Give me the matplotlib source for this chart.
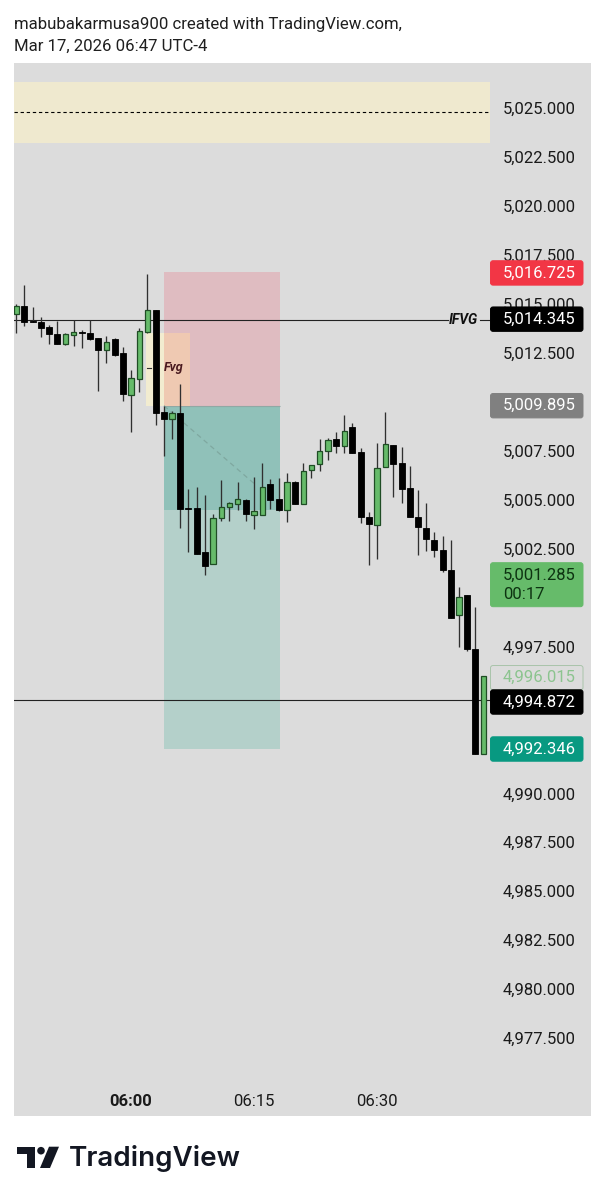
import numpy as np
import matplotlib
matplotlib.use('Agg')
import matplotlib.pyplot as plt
from matplotlib.patches import Rectangle, FancyBboxPatch, Circle, Polygon

plt.rcParams['font.family'] = ['Roboto', 'DejaVu Sans']

# minutes relative to 06:00, one candle per minute
minutes = np.arange(-14, 44)
opens = [5014.49, 5014.90, 5014.15, 5014.08, 5013.82, 5013.47, 5012.96, 5013.42, 5013.57, 5013.53,
         5013.26, 5012.67, 5013.23, 5012.50, 5010.37, 5011.20, 5013.57, 5014.69, 5009.50, 5009.14,
         5009.46, 5004.58, 5004.60, 5002.33, 5001.74, 5004.10, 5004.66, 5004.80, 5005.00, 5004.25,
         5004.25, 5005.82, 5005.07, 5004.48, 5005.92, 5004.82, 5006.54, 5006.83, 5007.51, 5008.11,
         5007.76, 5008.72, 5007.44, 5004.12, 5003.71, 5006.69, 5007.81, 5006.91, 5005.60, 5004.12,
         5003.59, 5002.98, 5002.44, 5001.43, 4999.12, 5000.15, 4997.38, 4992.02]
closes = [5014.91, 5014.10, 5014.10, 5013.77, 5013.50, 5012.99, 5013.47, 5013.57, 5013.53, 5013.23,
          5012.67, 5013.09, 5012.41, 5010.42, 5011.25, 5013.64, 5014.69, 5009.46, 5009.14, 5009.45,
          5004.53, 5004.54, 5002.26, 5001.65, 5004.09, 5004.66, 5004.87, 5005.04, 5004.27, 5004.43,
          5005.65, 5005.02, 5004.48, 5005.92, 5004.82, 5006.50, 5006.81, 5007.52, 5008.05, 5007.76,
          5008.54, 5007.39, 5004.12, 5003.78, 5006.65, 5007.85, 5006.86, 5005.55, 5004.12, 5003.63,
          5003.01, 5002.44, 5001.43, 4998.99, 5000.07, 4997.38, 4992.02, 4996.02]
highs = [5015.01, 5015.98, 5014.86, 5014.34, 5013.94, 5014.16, 5013.55, 5014.21, 5013.67, 5014.21,
         5013.28, 5013.38, 5013.28, 5012.80, 5011.63, 5013.79, 5016.55, 5014.71, 5009.82, 5009.55,
         5010.93, 5005.57, 5005.65, 5005.28, 5004.29, 5006.03, 5004.90, 5005.91, 5005.07, 5006.16,
         5006.91, 5006.06, 5006.13, 5006.37, 5005.98, 5006.91, 5006.81, 5008.11, 5008.17, 5008.49,
         5009.35, 5008.95, 5007.65, 5004.38, 5007.93, 5009.50, 5007.81, 5007.70, 5006.73, 5005.52,
         5004.84, 5003.37, 5003.17, 5002.96, 5000.55, 5000.15, 4999.56, 4996.02]
lows = [5013.53, 5013.91, 5014.10, 5013.31, 5012.99, 5012.99, 5012.94, 5012.87, 5012.75, 5013.18,
        5010.59, 5012.02, 5012.36, 5010.08, 5008.48, 5010.52, 5013.53, 5008.85, 5007.25, 5008.12,
        5003.59, 5002.36, 5002.23, 5001.16, 5001.74, 5003.95, 5003.95, 5004.48, 5003.95, 5003.51,
        5004.24, 5004.53, 5004.46, 5003.90, 5004.82, 5004.82, 5006.11, 5006.49, 5007.05, 5007.39,
        5007.39, 5007.39, 5003.82, 5001.70, 5001.98, 5006.69, 5005.17, 5004.85, 5004.12, 5002.18,
        5002.39, 5002.11, 5001.33, 4998.99, 4997.48, 4997.31, 4992.02, 4992.02]

# 5,010 / 5,000 / 4,995 / 4,992.5 sit fully behind tags in the picture
price_ticks = [5025.0, 5022.5, 5020.0, 5017.5, 5015.0, 5012.5, 5007.5, 5005.0, 5002.5, 4997.5,
               4990.0, 4987.5, 4985.0, 4982.5, 4980.0, 4977.5]
time_ticks = [0, 15, 30]
time_labels = ['06:00', '06:15', '06:30']

# drawings
zone_top, zone_mid, zone_bottom = 5026.35, 5024.82, 5023.24
ifvg_level, last_level = 5014.22, 4994.80
stop_level, entry_level, target_level = 5016.63, 5009.82, 4992.27
fill_level = 5004.50
trade_start, trade_end = 4.02, 18.17
fvg_start, fvg_end, fvg_top, fvg_mid = 1.83, 7.2, 5013.53, 5011.75
path_x, path_y = [4.02, 15.0], [5009.82, 5005.85]

# price scale tags: level, text, fill, text colour, edge
tags = [(5016.60, '5,016.725', '#f23645', 'white', '#f23645'),
        (5014.24, '5,014.345', '#000000', 'white', '#000000'),
        (5009.82, '5,009.895', '#808080', 'white', '#808080'),
        (4995.93, '4,996.015', '#dcdcdc', '#8cc48f', '#a9c4aa'),
        (4994.69, '4,994.872', '#000000', 'white', '#000000'),
        (4992.29, '4,992.346', '#089981', 'white', '#089981')]

BG = '#dcdcdc'
W, H = 605.0, 1200.0
fig = plt.figure(figsize=(6.05, 12), dpi=100, facecolor='white')


def px_axes(left, top, right, bottom):
    return fig.add_axes([left / W, 1 - bottom / H, (right - left) / W, (bottom - top) / H])


ymin, ymax = 4973.55, 5027.32
ax = px_axes(14, 63, 490, 1116)
ax_p = px_axes(490, 63, 591, 1116)
for a in (ax, ax_p):
    a.set_facecolor(BG)
    a.set_ylim(ymin, ymax)
    for s in a.spines.values():
        s.set_visible(False)
ax.set_xlim(-14.27, 43.78)
ax.set_yticks([])
ax.set_xticks(time_ticks)
ax.set_xticklabels(time_labels, fontsize=12, color='#1a1a1a')
ax.get_xticklabels()[0].set_fontweight('bold')
ax.tick_params(axis='x', length=0, pad=-16)

# zones and position tool
ax.axhspan(zone_bottom, zone_top, color='#efe9cf', lw=0, zorder=1)
ax.plot([-14.27, 43.78], [zone_mid, zone_mid], color='black', lw=0.8, ls=(0, (3, 2.5)), zorder=2)
ax.add_patch(Rectangle((trade_start, entry_level), trade_end - trade_start, stop_level - entry_level,
                       color='#dfbcc1', lw=0, zorder=1))
ax.add_patch(Rectangle((trade_start, target_level), trade_end - trade_start, entry_level - target_level,
                       color='#b4d0ca', lw=0, zorder=1))
ax.add_patch(Rectangle((trade_start, fill_level), trade_end - trade_start, entry_level - fill_level,
                       color='#90c1b9', lw=0, zorder=1.1))
ax.plot([trade_start, trade_end], [entry_level, entry_level], color='#8fa8a4', lw=0.8,
        solid_capstyle='butt', zorder=1.2)
ax.add_patch(Rectangle((fvg_start, entry_level), trade_start - fvg_start, fvg_top - entry_level,
                       color='#f2ecd0', lw=0, zorder=1.3))
ax.add_patch(Rectangle((trade_start, entry_level), fvg_end - trade_start, fvg_top - entry_level,
                       color='#efc9b2', lw=0, zorder=1.3))
ax.plot(path_x, path_y, color='#7fa8a0', lw=0.9, ls=(0, (4, 3)), zorder=1.4)
ax.plot([fvg_start + 0.1, fvg_start + 0.6], [fvg_mid, fvg_mid], color='#333333', lw=0.8, zorder=1.4)

# horizontal lines
ax.plot([-14.27, 38.6], [ifvg_level, ifvg_level], color='#222222', lw=0.8, zorder=2)
ax.plot([42.5, 43.78], [ifvg_level, ifvg_level], color='#222222', lw=0.8, zorder=2)
ax.plot([-14.27, 43.78], [last_level, last_level], color='#222222', lw=0.8, zorder=2)
ax.text(40.5, ifvg_level, 'IFVG', fontsize=10, fontstyle='italic', fontweight='bold',
        color='#111111', ha='center', va='center', zorder=5)
ax.text(5.2, fvg_mid, 'Fvg', fontsize=9, fontstyle='italic', fontweight='bold',
        color='#4a1a20', ha='center', va='center', zorder=5)

# candles
o, c, hi, lo = map(np.array, (opens, closes, highs, lows))
up = c > o
ax.vlines(minutes, lo, hi, color='#303030', lw=0.95, zorder=3)
ax.bar(minutes[~up], (o - c)[~up], bottom=c[~up], width=0.72, color='black', edgecolor='black', lw=0.6, zorder=4)
ax.bar(minutes[up], (c - o)[up], bottom=o[up], width=0.66, color='#66bb6a', edgecolor='#1f4d25', lw=0.9, zorder=4)

# price scale
ax_p.set_xlim(490, 591)
ax_p.set_xticks([])
ax_p.set_yticks([])
for p in price_ticks:
    ax_p.text(539.5, p - 0.05, f'{p:,.3f}', fontsize=12, color='#1a1a1a', ha='center', va='center', zorder=2)

px_per_unit = 19.58
tag_h = 24.4 / px_per_unit


def add_tag(level, height, face, edge):
    ax_p.add_patch(FancyBboxPatch((490.5, level - height / 2), 92.5, height,
                                  boxstyle='round,pad=0,rounding_size=2.5',
                                  mutation_aspect=1 / px_per_unit,
                                  fc=face, ec=edge, lw=0.7, zorder=3, clip_on=False))


for level, label, face, tc, edge in tags:
    add_tag(level, tag_h, face, edge)
    ax_p.text(539.5, level, label, fontsize=12, color=tc, ha='center', va='center', zorder=4)

# current price with countdown
add_tag(5000.68, 44 / px_per_unit, '#66bb6a', '#66bb6a')
ax_p.text(503, 5001.15, '5,001.285', fontsize=12, color='#0d3311', ha='left', va='center', zorder=4)
ax_p.text(503, 5000.2, '00:17', fontsize=12, color='#0d3311', ha='left', va='center', zorder=4)

# header and logo on a full figure overlay in pixels
ov = fig.add_axes([0, 0, 1, 1], facecolor='none')
ov.set_xlim(0, W)
ov.set_ylim(H, 0)
ov.axis('off')
ov.text(14, 24, 'mabubakarmusa900 created with TradingView.com,', fontsize=12.1, color='#1f1f1f', va='center')
ov.text(14, 46, 'Mar 17, 2026 06:47 UTC-4', fontsize=12.1, color='#1f1f1f', va='center')

logo = '#131722'
ov.add_patch(Polygon([(17.3, 1146.7), (35, 1146.7), (35, 1168), (26.7, 1168), (26.7, 1154), (17.3, 1154)],
                     closed=True, fc=logo, ec='none'))
ov.add_patch(Circle((41, 1150.7), 3.8, fc=logo, ec='none'))
ov.add_patch(Polygon([(49, 1146.7), (59, 1146.7), (50, 1168), (40, 1168)], closed=True, fc=logo, ec='none'))
ov.text(69, 1159, 'TradingView', fontsize=20, family='Inter', fontweight='semibold', color=logo, va='center')

fig.savefig('out.png', dpi=100, facecolor='white')
